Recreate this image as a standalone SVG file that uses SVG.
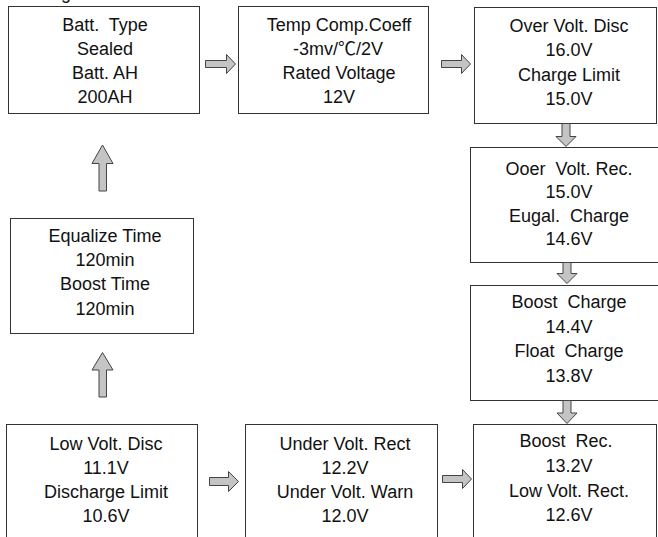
<svg xmlns="http://www.w3.org/2000/svg" width="658" height="537" viewBox="0 0 658 537">
<style>
.box{fill:#fff;stroke:#333;stroke-width:1}
.t{font-family:"Liberation Sans",Arial,"Noto Sans CJK SC",sans-serif;font-size:18px;fill:#111;text-anchor:middle;white-space:pre}
.arr{fill:#c4c4c4;stroke:#444;stroke-width:1;stroke-linejoin:miter}
</style>
<rect width="658" height="537" fill="#fff"/>
<text class="t" x="66" y="-1">g</text>
<g id="n-batt">
<rect class="box" x="8.5" y="6.5" width="191" height="107"/>
<text class="t" x="105" y="31" xml:space="preserve">Batt.  Type</text>
<text class="t" x="105" y="55">Sealed</text>
<text class="t" x="105" y="79">Batt. AH</text>
<text class="t" x="105" y="103">200AH</text>
</g>
<g id="n-temp">
<rect class="box" x="238.5" y="6.5" width="190" height="107"/>
<text class="t" x="339" y="31">Temp Comp.Coeff</text>
<text class="t" x="338" y="55">-3mv/℃/2V</text>
<text class="t" x="339" y="79">Rated Voltage</text>
<text class="t" x="339" y="103">12V</text>
</g>
<g id="n-over">
<rect class="box" x="474.5" y="7.5" width="182" height="116"/>
<text class="t" x="569" y="32">Over Volt. Disc</text>
<text class="t" x="569" y="56">16.0V</text>
<text class="t" x="569" y="81">Charge Limit</text>
<text class="t" x="569" y="105">15.0V</text>
</g>
<g id="n-ooer">
<rect class="box" x="470.5" y="147.5" width="200" height="115"/>
<text class="t" x="569" y="175" xml:space="preserve">Ooer  Volt. Rec.</text>
<text class="t" x="569" y="198">15.0V</text>
<text class="t" x="569" y="222" xml:space="preserve">Eugal.  Charge</text>
<text class="t" x="569" y="245">14.6V</text>
</g>
<g id="n-boost">
<rect class="box" x="470.5" y="285.5" width="200" height="115"/>
<text class="t" x="569" y="308" xml:space="preserve">Boost  Charge</text>
<text class="t" x="569" y="333">14.4V</text>
<text class="t" x="569" y="357" xml:space="preserve">Float  Charge</text>
<text class="t" x="569" y="382">13.8V</text>
</g>
<g id="n-boostrec">
<rect class="box" x="473.5" y="424.5" width="183" height="130"/>
<text class="t" x="566" y="447" xml:space="preserve">Boost  Rec.</text>
<text class="t" x="569" y="472">13.2V</text>
<text class="t" x="569" y="497">Low Volt. Rect.</text>
<text class="t" x="569" y="521">12.6V</text>
</g>
<g id="n-under">
<rect class="box" x="245.5" y="424.5" width="192" height="130"/>
<text class="t" x="345" y="450">Under Volt. Rect</text>
<text class="t" x="345" y="474">12.2V</text>
<text class="t" x="345" y="498">Under Volt. Warn</text>
<text class="t" x="345" y="522">12.0V</text>
</g>
<g id="n-low">
<rect class="box" x="6.5" y="424.5" width="191" height="130"/>
<text class="t" x="106" y="450">Low Volt. Disc</text>
<text class="t" x="106" y="474">11.1V</text>
<text class="t" x="106" y="498">Discharge Limit</text>
<text class="t" x="106" y="522">10.6V</text>
</g>
<g id="n-eq">
<rect class="box" x="10.5" y="218.5" width="183" height="115"/>
<text class="t" x="105" y="242">Equalize Time</text>
<text class="t" x="105" y="266">120min</text>
<text class="t" x="105" y="290">Boost Time</text>
<text class="t" x="105" y="315">120min</text>
</g>
<g id="connectors">
<path class="arr" d="M205.5,60.5 H226.5 V54.5 L235.5,64 L226.5,73.5 V67.5 H205.5 Z"/>
<path class="arr" d="M441.5,60.5 H461.5 V54.5 L470.5,64 L461.5,73.5 V67.5 H441.5 Z"/>
<path class="arr" d="M209.5,477.5 H228.5 V471.5 L238.5,481.5 L228.5,491.5 V485.5 H209.5 Z"/>
<path class="arr" d="M442.5,475.5 H462.5 V469.5 L471.5,479 L462.5,488.5 V482.5 H442.5 Z"/>
<path class="arr" d="M562,123.5 V136.5 H556 L566,146.5 L576,136.5 H570 V123.5 Z"/>
<path class="arr" d="M563,262.5 V273.5 H557 L567,283.5 L577,273.5 H571 V262.5 Z"/>
<path class="arr" d="M563,400.5 V413 H557 L567,423.5 L577,413 H571 V400.5 Z"/>
<path class="arr" d="M99,191 V163.5 H92 L102.5,145 L113,163.5 H106.5 V191 Z"/>
<path class="arr" d="M99,397 V370 H92 L102.5,352.5 L113,370 H106.5 V397 Z"/>
</g>
</svg>
